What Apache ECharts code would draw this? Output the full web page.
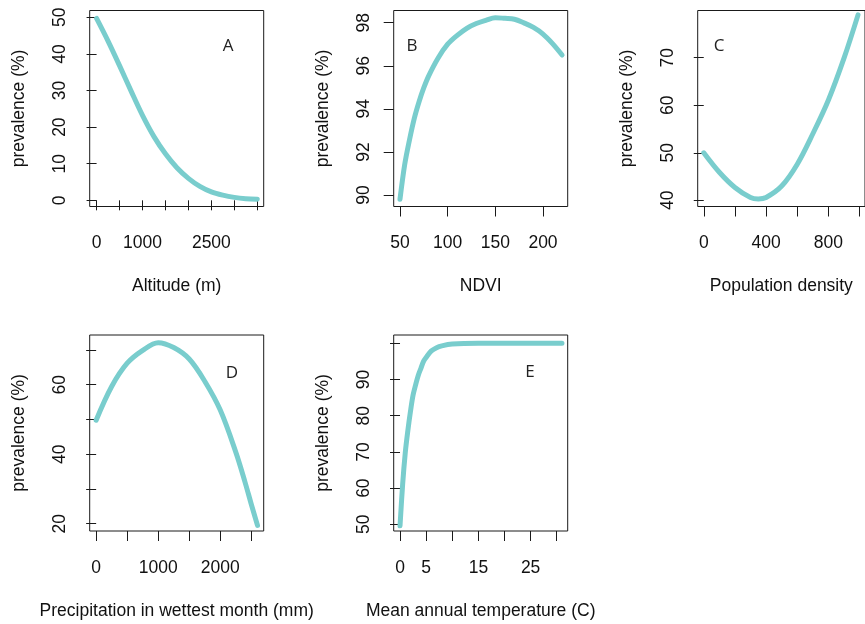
<!DOCTYPE html>
<html>
<head>
<meta charset="utf-8">
<script src="https://cdn.jsdelivr.net/npm/echarts@6/dist/echarts.min.js"></script>
<style>
html,body{margin:0;padding:0;background:#fff;}
#chart{width:865px;height:624px;}
</style>
</head>
<body>
<div id="chart"></div>
<script>
// ---- Data ----
const altitudeX = [0, 250, 500, 750, 1000, 1250, 1500, 1750, 2000, 2250, 2500, 2750, 3000, 3250, 3500];
const altitudePrev = [49.7, 43.5, 36.8, 29.9, 23.2, 17.4, 12.7, 8.9, 6.0, 3.8, 2.3, 1.4, 0.8, 0.45, 0.3];

const ndviX = [50, 55, 60, 65, 70, 75, 80, 90, 100, 110, 120, 130, 140, 150, 160, 170, 180, 190, 200, 210, 220];
const ndviPrev = [89.8, 91.43, 92.57, 93.56, 94.33, 94.98, 95.52, 96.36, 97.0, 97.41, 97.74, 97.96, 98.11, 98.23, 98.2, 98.16, 97.99, 97.78, 97.47, 97.03, 96.5];

const popX = [0, 100, 200, 300, 350, 400, 500, 600, 700, 800, 900, 990];
const popPrev = [50, 45.9, 42.7, 40.6, 40.3, 40.6, 43.0, 47.6, 54.0, 61.1, 69.9, 79.0];

const precipX = [0, 250, 500, 750, 1000, 1250, 1500, 1750, 2000, 2250, 2400, 2500, 2600];
const precipPrev = [49.8, 59.5, 66.2, 69.9, 72.1, 70.7, 67.4, 61.0, 52.7, 40.6, 31.9, 25.6, 19.5];

const tempX = [0, 0.5, 1, 1.5, 2, 2.5, 3, 3.5, 4, 4.5, 5, 6, 7, 8, 10, 15, 20, 25, 31];
const tempPrev = [49.6, 61.0, 69.7, 75.9, 81.2, 85.7, 88.6, 91.2, 93.1, 95.0, 96.1, 97.9, 98.8, 99.3, 99.8, 100, 100, 100, 100];

// tick values and tick labels
const altXTicks = [0, 500, 1000, 1500, 2000, 2500, 3000, 3500];
const altXLabels = [0, 1000, 2500];
const altYTicks = [0, 10, 20, 30, 40, 50];
const ndviXTicks = [50, 100, 150, 200];
const ndviYTicks = [90, 92, 94, 96, 98];
const popXTicks = [0, 200, 400, 600, 800, 1000];
const popXLabels = [0, 400, 800];
const popYTicks = [40, 50, 60, 70];
const precipXTicks = [0, 500, 1000, 1500, 2000, 2500];
const precipXLabels = [0, 1000, 2000];
const precipYTicks = [20, 30, 40, 50, 60, 70];
const precipYLabels = [20, 40, 60];
const tempXTicks = [0, 5, 10, 15, 20, 25, 30];
const tempXLabels = [0, 5, 15, 25];
const tempYTicks = [50, 60, 70, 80, 90, 100];
const tempYLabels = [50, 60, 70, 80, 90];

const xTitles = ['Altitude (m)', 'NDVI', 'Population density', 'Precipitation in wettest month (mm)', 'Mean annual temperature (C)'];
const yTitle = 'prevalence (%)';
const panelLetters = ['A', 'B', 'C', 'D', 'E'];

// ---- Layout ----
const FONT = '"Liberation Sans", Arial, sans-serif';
const FS = 17.5;
const LINE = '#79CDCD';
const BOX_W = 174, BOX_H = 196;
const colLeft = [89.7, 393.7, 697.7];
const rowTop = [10.5, 335];

const panels = [
  {x: altitudeX, y: altitudePrev, xr: [-150, 3640], yr: [-1.69, 51.87], xt: altXTicks, xl: altXLabels, yt: altYTicks, yl: altYTicks, col: 0, row: 0, letter: [228, 46]},
  {x: ndviX, y: ndviPrev, xr: [43.4, 225.9], yr: [89.466, 98.565], xt: ndviXTicks, xl: ndviXTicks, yt: ndviYTicks, yl: ndviYTicks, col: 1, row: 0, letter: [412, 46]},
  {x: popX, y: popPrev, xr: [-38.9, 1034.7], yr: [38.70, 79.92], xt: popXTicks, xl: popXLabels, yt: popYTicks, yl: popYTicks, col: 2, row: 0, letter: [719, 46]},
  {x: precipX, y: precipPrev, xr: [-104, 2700], yr: [17.89, 74.32], xt: precipXTicks, xl: precipXLabels, yt: precipYTicks, yl: precipYLabels, col: 0, row: 1, letter: [232, 373]},
  {x: tempX, y: tempPrev, xr: [-1.21, 32.1], yr: [48.16, 102.3], xt: tempXTicks, xl: tempXLabels, yt: tempYTicks, yl: tempYLabels, col: 1, row: 1, letter: [530, 372]}
];

const plain = v => String(v);
const grid = [], xAxis = [], yAxis = [], series = [], graphic = [];
panels.forEach((p, i) => {
  grid.push({
    left: colLeft[p.col], top: rowTop[p.row], width: BOX_W, height: BOX_H,
    show: true, borderColor: '#1a1a1a', borderWidth: 1, backgroundColor: 'transparent'
  });
  xAxis.push({
    type: 'value', gridIndex: i, min: p.xr[0], max: p.xr[1],
    splitLine: {show: false},
    axisLine: {show: false},
    axisTick: {show: true, inside: false, length: 10, customValues: p.xt, lineStyle: {color: '#1a1a1a', width: 1}},
    axisLabel: {show: true, customValues: p.xl, formatter: plain, margin: 28, fontSize: FS, fontFamily: FONT, color: '#111'},
    name: xTitles[i], nameLocation: 'middle', nameGap: 71,
    nameTextStyle: {fontSize: FS, fontFamily: FONT, color: '#111'}
  });
  yAxis.push({
    type: 'value', gridIndex: i, min: p.yr[0], max: p.yr[1],
    splitLine: {show: false},
    axisLine: {show: false},
    axisTick: {show: true, inside: false, length: 10, customValues: p.yt, lineStyle: {color: '#1a1a1a', width: 1}},
    axisLabel: {show: true, customValues: p.yl, formatter: plain, rotate: 90, margin: 21, fontSize: FS, fontFamily: FONT, color: '#111'},
    name: yTitle, nameLocation: 'middle', nameGap: 62,
    nameTextStyle: {fontSize: FS, fontFamily: FONT, color: '#111'}
  });
  series.push({
    type: 'line', xAxisIndex: i, yAxisIndex: i,
    data: p.x.map((v, k) => [v, p.y[k]]),
    smooth: 0.35,
    showSymbol: false, symbol: 'none',
    lineStyle: {color: LINE, width: 5, cap: 'round', join: 'round'},
    silent: true, animation: false
  });
  graphic.push({
    type: 'text', x: p.letter[0], y: p.letter[1],
    style: {text: panelLetters[i], fontSize: 17, fontFamily: '"Open Sans", "Liberation Sans", sans-serif', fill: '#222', align: 'center', verticalAlign: 'middle'}
  });
});

const chart = echarts.init(document.getElementById('chart'), null, {renderer: 'canvas'});
chart.setOption({
  backgroundColor: '#ffffff',
  animation: false,
  grid, xAxis, yAxis, series, graphic
});
</script>
</body>
</html>
